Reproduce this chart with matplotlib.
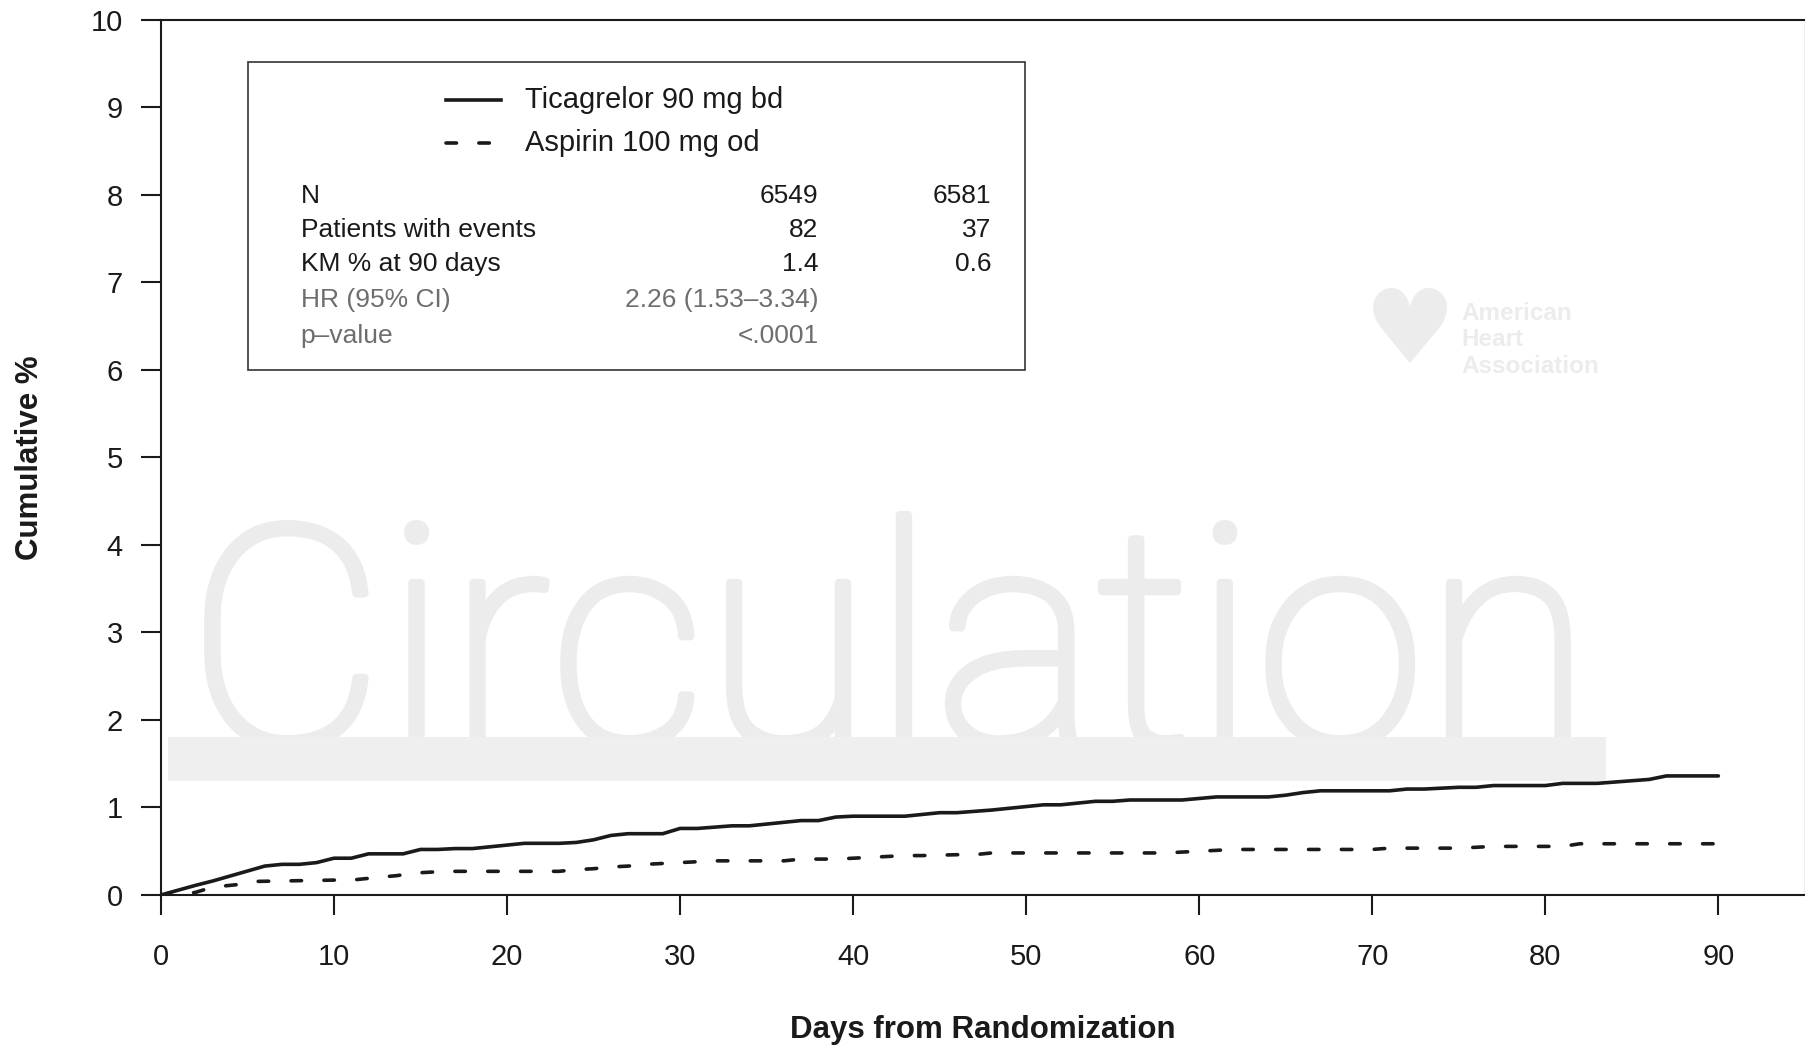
import matplotlib
matplotlib.use("Agg")
import matplotlib.pyplot as plt
from matplotlib.patches import Rectangle
import matplotlib.patheffects as pe

# ---------------- data ----------------
tica_days = [0, 2, 3, 6, 7, 8, 9, 10, 11, 12, 14, 15, 16, 17, 18, 20, 21, 23, 24, 25,
             26, 27, 29, 30, 31, 33, 34, 37, 38, 39, 40, 43, 45, 46, 48, 50, 51, 52, 54, 55,
             56, 59, 61, 64, 65, 66, 67, 71, 72, 73, 75, 76, 77, 80, 81, 83, 86, 87, 90]
tica_pct = [0, 0.11, 0.16, 0.33, 0.35, 0.35, 0.37, 0.42, 0.42, 0.47, 0.47, 0.52, 0.52, 0.53, 0.53, 0.57, 0.59, 0.59, 0.60, 0.63,
            0.68, 0.70, 0.70, 0.76, 0.76, 0.79, 0.79, 0.85, 0.85, 0.89, 0.90, 0.90, 0.94, 0.94, 0.97, 1.01, 1.03, 1.03, 1.07, 1.07,
            1.085, 1.085, 1.12, 1.12, 1.14, 1.17, 1.19, 1.19, 1.21, 1.21, 1.23, 1.23, 1.25, 1.25, 1.275, 1.275, 1.32, 1.36, 1.36]

asp_days = [0, 1, 2, 2.5, 3.5, 4.5, 5.5, 10, 11, 12, 13, 13.6, 14.6, 15.5, 16.5, 23, 24, 25, 26, 27,
            28, 29, 30, 31, 32, 36, 37, 39, 40, 41, 42, 43, 44, 46, 47, 48, 49, 58, 59, 60,
            61, 62, 63, 70, 71, 75, 76, 77, 81, 82, 90]
asp_pct = [0, 0.0, 0.03, 0.06, 0.10, 0.12, 0.155, 0.17, 0.17, 0.19, 0.21, 0.22, 0.25, 0.26, 0.27, 0.27, 0.29, 0.30, 0.32, 0.33,
           0.35, 0.36, 0.37, 0.38, 0.39, 0.39, 0.41, 0.41, 0.42, 0.43, 0.44, 0.45, 0.45, 0.46, 0.46, 0.48, 0.48, 0.48, 0.49, 0.50,
           0.51, 0.52, 0.52, 0.52, 0.535, 0.535, 0.545, 0.555, 0.555, 0.585, 0.585]

series_labels = ["Ticagrelor 90 mg bd", "Aspirin 100 mg od"]
table_rows = ["N", "Patients with events", "KM % at 90 days", "HR (95% CI)", "p\u2013value"]
col_tica = ["6549", "82", "1.4", "2.26 (1.53\u20133.34)", "<.0001"]
col_asp = ["6581", "37", "0.6", "", ""]

x_ticks = [0, 10, 20, 30, 40, 50, 60, 70, 80, 90]
y_ticks = [0, 1, 2, 3, 4, 5, 6, 7, 8, 9, 10]

# ---------------- figure ----------------
plt.rcParams['font.family'] = ['Liberation Sans', 'DejaVu Sans']
fig = plt.figure(figsize=(18.06, 10.47), dpi=100)
ax = fig.add_axes([0.0891, 0.1452, 0.9103, 0.8361])
ax.set_xlim(0, 95)
ax.set_ylim(0, 10)

# watermark
wm = '#ececec'
ax.text(1.5, 1.72, "Circulation", family=['Roboto', 'Lato', 'DejaVu Sans'], fontweight='light',
        fontsize=220, color=wm, ha='left', va='baseline', zorder=0,
        path_effects=[pe.withStroke(linewidth=6, foreground=wm)])
ax.add_patch(Rectangle((0.4, 1.30), 83.1, 0.50, facecolor='#efefef', edgecolor='none', zorder=0.5))
ax.text(0.760, 0.640, "\u2665", transform=ax.transAxes, fontsize=74, color=wm,
        family=['DejaVu Sans'], ha='center', va='center', zorder=0)
ax.text(0.791, 0.634, "American\nHeart\nAssociation", transform=ax.transAxes, fontsize=17.5,
        fontweight='bold', color=wm, ha='left', va='center', linespacing=1.2, zorder=0)

# curves
lw = 2.6
ax.plot(tica_days, tica_pct, color='#1a1a1a', lw=lw, solid_joinstyle='round',
        solid_capstyle='round', zorder=3)
ax.plot(asp_days, asp_pct, color='#1a1a1a', lw=lw, linestyle=(0, (2.9, 6.2)),
        dash_capstyle='round', zorder=3)

# spines & ticks
for s in ['left', 'bottom', 'top']:
    ax.spines[s].set_linewidth(1.5)
    ax.spines[s].set_color('#1a1a1a')
ax.spines['right'].set_linewidth(1.0)
ax.spines['right'].set_color('#aaaaaa')
ax.set_xticks(x_ticks)
ax.set_yticks(y_ticks)
ax.tick_params(axis='both', direction='out', length=14.4, width=1.5, color='#1a1a1a',
               labelsize=21, labelcolor='#1a1a1a')
ax.tick_params(axis='x', pad=20)
ax.tick_params(axis='y', pad=13)
ax.set_xlabel("Days from Randomization", fontsize=22.5, fontweight='bold', color='#1a1a1a', labelpad=32)
ax.set_ylabel("Cumulative %", fontsize=22.5, fontweight='bold', color='#1a1a1a', labelpad=33)

# legend / summary box
ax.add_patch(Rectangle((0.0529, 0.600), 0.4729, 0.351, transform=ax.transAxes, facecolor='white',
                       edgecolor='#333333', lw=1.2, zorder=4))
ax.plot([0.1733, 0.2067], [0.908, 0.908], transform=ax.transAxes, color='#1a1a1a', lw=lw, zorder=5)
ax.plot([0.1733, 0.2067], [0.859, 0.859], transform=ax.transAxes, color='#1a1a1a', lw=lw,
        linestyle=(0, (2.9, 6.2)), dash_capstyle='round', zorder=5)
ax.text(0.2213, 0.908, series_labels[0], transform=ax.transAxes, fontsize=21, color='#1a1a1a',
        ha='left', va='center', zorder=5)
ax.text(0.2213, 0.859, series_labels[1], transform=ax.transAxes, fontsize=21, color='#1a1a1a',
        ha='left', va='center', zorder=5)
row_y = [0.799, 0.760, 0.721, 0.680, 0.639]
for i, (lab, a, b) in enumerate(zip(table_rows, col_tica, col_asp)):
    c = '#1a1a1a' if i < 3 else '#6e6e6e'
    ax.text(0.0851, row_y[i], lab, transform=ax.transAxes, fontsize=19, color=c, ha='left', va='center', zorder=5)
    ax.text(0.4000, row_y[i], a, transform=ax.transAxes, fontsize=19, color=c, ha='right', va='center', zorder=5)
    ax.text(0.5052, row_y[i], b, transform=ax.transAxes, fontsize=19, color=c, ha='right', va='center', zorder=5)

fig.savefig("out.png", dpi=100)
